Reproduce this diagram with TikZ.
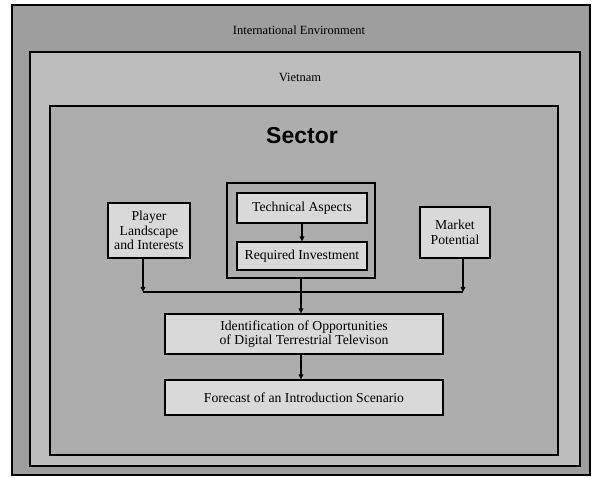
\documentclass[tikz,border=0pt]{standalone}
\usepackage{fontspec}
\setmainfont{Liberation Serif}
\newfontfamily\headfont{Liberation Sans}
\usetikzlibrary{arrows.meta}
\definecolor{bandout}{gray}{0.62}
\definecolor{bandmid}{gray}{0.74}
\definecolor{bandin}{gray}{0.68}
\definecolor{boxfill}{gray}{0.85}
\tikzset{
  frame/.style={draw=black, line width=1.1pt},
  item/.style={frame, fill=boxfill, align=center, inner sep=0pt,
    font=\fontsize{13.7}{14.5}\selectfont},
  link/.style={line width=1.1pt, -{Triangle[length=5pt,width=4.5pt]}},
  plain/.style={line width=1.1pt}
}
\begin{document}
\begin{tikzpicture}[x=1pt,y=-1pt]
  \useasboundingbox (0,0) rectangle (598,478);
  \fill[white] (0,0) rectangle (598,478);
  % nested context frames
  \draw[frame, fill=bandout, line width=1.6pt] (12,5) rectangle (590,475);
  \draw[frame, fill=bandmid] (30,52) rectangle (580,466);
  \draw[frame, fill=bandin] (50,106) rectangle (558,455);
  \node (intl) at (299,30) {\fontsize{12.5}{13}\selectfont International Environment};
  \node (vn) at (300,77) {\fontsize{12.5}{13}\selectfont Vietnam};
  \node (sector) at (302,136) {\headfont\bfseries\fontsize{23}{24}\selectfont Sector};
  % technical group
  \node[frame, minimum width=148pt, minimum height=95pt, inner sep=0pt] (group) at (301,230.5) {};
  \node[item, minimum width=130pt, minimum height=30pt] (tech) at (302,208) {Technical Aspects};
  \node[item, minimum width=130pt, minimum height=28pt] (inv) at (302,256) {Required Investment};
  % side inputs
  \node[item, minimum width=82pt, minimum height=55pt] (player) at (149,230.5) {Player\\Landscape\\and Interests};
  \node[item, minimum width=70pt, minimum height=51pt] (market) at (455,232.5) {Market\\Potential};
  % results
  \node[item, minimum width=278pt, minimum height=40pt] (ident) at (304,334) {Identification of Opportunities\\of Digital Terrestrial Televison};
  \node[item, minimum width=278pt, minimum height=35pt] (fore) at (304,397.5) {Forecast of an Introduction Scenario};
  % connectors
  \coordinate (jl) at (143,292);
  \coordinate (jr) at (463,292);
  \coordinate (jc) at (301,292);
  \draw[link] (tech) -- (inv);
  \draw[link] (player.south -| jl) -- (jl);
  \draw[link] (market.south -| jr) -- (jr);
  \draw[plain] (jl) -- (jr);
  \draw[link] (group.south -| jc) -- (ident.north -| jc);
  \draw[link] (ident.south -| jc) -- (fore.north -| jc);
\end{tikzpicture}
\end{document}
